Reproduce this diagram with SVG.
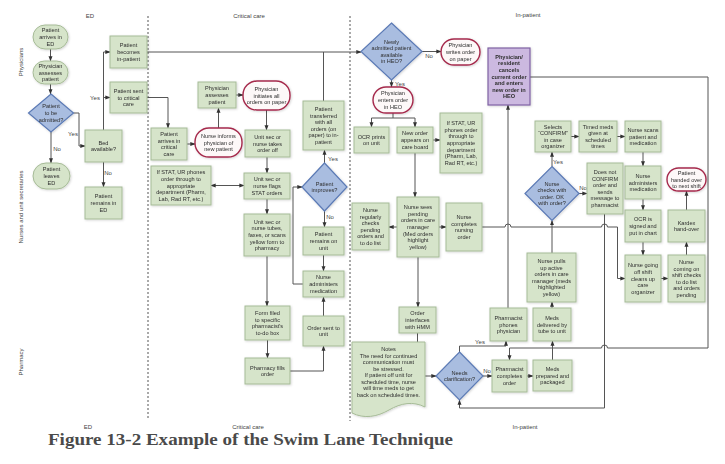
<svg xmlns="http://www.w3.org/2000/svg" width="725" height="464" viewBox="0 0 725 464">
<defs>
<style>
.box{fill:#d6e4ca;stroke:#a6bb97;stroke-width:1}
.term{fill:#fdf8f8;stroke:#a52a4c;stroke-width:1.4}
.dia{fill:#a9bde0;stroke:#5b7ab5;stroke-width:1.2}
.pur{fill:#ccb9e0;stroke:#7f62a3;stroke-width:1.2}
.t{font-family:"Liberation Sans",Arial,sans-serif;font-size:5.6px;fill:#2e2e2e;text-anchor:middle}
.b{font-weight:bold}
.lbl{font-family:"Liberation Sans",Arial,sans-serif;font-size:6px;fill:#444;text-anchor:middle}
.ln{fill:none;stroke:#555;stroke-width:1}
.ar{marker-end:url(#ah)}
.lane{stroke:#555;stroke-width:1;stroke-dasharray:2 2;fill:none}
.cap{font-family:"Liberation Serif","Times New Roman",serif;font-weight:bold;font-size:16.5px;fill:#4a4a4a}
.sh{filter:url(#ds)}
</style>
<marker id="ah" viewBox="0 0 6 6" refX="5.6" refY="3" markerWidth="5" markerHeight="5" orient="auto-start-reverse" markerUnits="userSpaceOnUse"><path d="M0,0.6 L6,3 L0,5.4 Z" fill="#333"/></marker>
<filter id="ds" x="-20%" y="-20%" width="140%" height="140%"><feDropShadow dx="0.8" dy="0.8" stdDeviation="0.8" flood-color="#000" flood-opacity="0.18"/></filter>
</defs>
<rect width="725" height="464" fill="#fff"/>

<g id="lanes">
<line class="lane" x1="148" y1="16" x2="148" y2="419"/>
<line class="lane" x1="350" y1="16" x2="350" y2="421"/>
<text class="lbl" x="90" y="18">ED</text>
<text class="lbl" x="249" y="18">Critical care</text>
<text class="lbl" x="528" y="17">In-patient</text>
<text class="lbl" x="88" y="428.5">ED</text>
<text class="lbl" x="248" y="428.5">Critical care</text>
<text class="lbl" x="525" y="428.5">In-patient</text>
<text class="lbl" transform="translate(23,62) rotate(-90)">Physicians</text>
<text class="lbl" transform="translate(23,207) rotate(-90)">Nurses and unit secretaries</text>
<text class="lbl" transform="translate(23,362) rotate(-90)">Pharmacy</text>
</g>

<g id="connectors">
<path class="ln ar" d="M50.5,49 V61"/>
<path class="ln ar" d="M50.5,84 V94"/>
<path class="ln ar" d="M73.5,113 H79 V146 H85"/>
<path class="ln ar" d="M51,132 V163"/>
<path class="ln ar" d="M103.5,130 V52 H110"/>
<path class="ln ar" d="M103.5,97.5 H110"/>
<path class="ln ar" d="M103.5,162 V187"/>
<path class="ln ar" d="M147,52 H361"/>
<path class="ln ar" d="M147,97.5 H168 V128"/>
<path class="ln ar" d="M187,144 H195"/>
<path class="ln ar" d="M218.5,128 V108"/>
<path class="ln ar" d="M236,95 H243"/>
<path class="ln ar" d="M266.5,110 V130"/>
<path class="ln ar" d="M267,157 V173"/>
<path class="ln ar" d="M211,185.5 H244" marker-start="url(#ah)"/>
<path class="ln ar" d="M267,199 V214"/>
<path class="ln ar" d="M267,256 V306"/>
<path class="ln ar" d="M267.5,340 V358"/>
<path class="ln ar" d="M290,371 H323.5 V346"/>
<path class="ln ar" d="M323.5,316 V297"/>
<path class="ln ar" d="M323.5,255 V271"/>
<path class="ln ar" d="M324.5,211 V227"/>
<path class="ln ar" d="M324.5,163 V150"/>
<path class="ln" d="M323.5,101 V52"/>
<path class="ln ar" d="M303,284 H293 V187 H302"/>
<path class="ln ar" d="M422,51.5 H441"/>
<path class="ln ar" d="M391.5,80 V87"/>
<path class="ln" d="M393,113 V118 M371.5,118 H415"/>
<path class="ln ar" d="M371.5,118 V127"/>
<path class="ln ar" d="M415,118 V127"/>
<path class="ln ar" d="M433,140 H440"/>
<path class="ln ar" d="M415,153 V197"/>
<path class="ln ar" d="M397,227 H389"/>
<path class="ln ar" d="M439,227 H446"/>
<path class="ln ar" d="M482,227 H505 A3,3 0 0 1 511,227 H601.5 A3,3 0 0 1 607.5,227 H617.5 V278.5 H625"/>
<path class="ln ar" d="M508,308 V105"/>
<path class="ln ar" d="M530,77 H708 V348 H607.5 A3,3 0 0 0 601.5,348 H509.5 V360"/>
<path class="ln ar" d="M418,257 V307"/>
<path class="ln ar" d="M417.5,333 V376 H436"/>
<path class="ln ar" d="M483,376 H492"/>
<path class="ln ar" d="M459.5,352 V346 H506 V341"/>
<path class="ln ar" d="M527,376 H533"/>
<path class="ln ar" d="M552.5,360 V341"/>
<path class="ln ar" d="M552,308 V302"/>
<path class="ln ar" d="M552,253 V220.5"/>
<path class="ln ar" d="M552,166.5 V152"/>
<path class="ln ar" d="M579,193.5 H587"/>
<path class="ln ar" d="M604.5,214 V408 H459.5 V400"/>
<path class="ln ar" d="M571,136.5 H579"/>
<path class="ln ar" d="M617,136.5 H625"/>
<path class="ln ar" d="M643,152 V166"/>
<path class="ln ar" d="M643,199 V210"/>
<path class="ln ar" d="M643,242 V255"/>
<path class="ln ar" d="M661,278.5 H668"/>
<path class="ln ar" d="M686.5,255 V242"/>
<path class="ln ar" d="M686.5,210 V191"/>
<text class="lbl" x="73" y="136">Yes</text>
<text class="lbl" x="57" y="151">No</text>
<text class="lbl" x="95" y="99.5">Yes</text>
<text class="lbl" x="108" y="175">No</text>
<text class="lbl" x="333" y="161">Yes</text>
<text class="lbl" x="330" y="219">No</text>
<text class="lbl" x="429" y="58">No</text>
<text class="lbl" x="400" y="86">Yes</text>
<text class="lbl" x="480" y="344">Yes</text>
<text class="lbl" x="487" y="373">No</text>
<text class="lbl" x="558" y="164">Yes</text>
<text class="lbl" x="583" y="190">No</text>
</g>

<g id="n_ed_arrive" class="sh"><rect class="box" x="33" y="25" width="35" height="24" rx="12"/><text class="t" x="50.5" y="32.4"><tspan x="50.5">Patient</tspan><tspan x="50.5" dy="6.6">arrives in</tspan><tspan x="50.5" dy="6.6">ED</tspan></text></g>
<g id="n_ed_assess" class="sh"><rect class="box" x="33" y="61" width="35" height="23" rx="11.5"/><text class="t" x="50.5" y="67.9"><tspan x="50.5">Physician</tspan><tspan x="50.5" dy="6.6">assesses</tspan><tspan x="50.5" dy="6.6">patient</tspan></text></g>
<g id="n_admit" class="sh"><polygon class="dia" points="51,94 73.5,113 51,132 28.5,113"/><text class="t" x="51" y="108.4"><tspan x="51">Patient</tspan><tspan x="51" dy="6.6">to be</tspan><tspan x="51" dy="6.6">admitted?</tspan></text></g>
<g id="n_leaves" class="sh"><rect class="box" x="33" y="163" width="37" height="26" rx="13"/><text class="t" x="51.5" y="171.4"><tspan x="51.5">Patient</tspan><tspan x="51.5" dy="6.6">leaves</tspan><tspan x="51.5" dy="6.6">ED</tspan></text></g>
<g id="n_bed" class="sh"><rect class="box" x="85" y="130" width="37" height="32"/><text class="t" x="103.5" y="144.7"><tspan x="103.5">Bed</tspan><tspan x="103.5" dy="6.6">available?</tspan></text></g>
<g id="n_remains_ed" class="sh"><rect class="box" x="85" y="187" width="37" height="32"/><text class="t" x="103.5" y="198.4"><tspan x="103.5">Patient</tspan><tspan x="103.5" dy="6.6">remains in</tspan><tspan x="103.5" dy="6.6">ED</tspan></text></g>
<g id="n_becomes" class="sh"><rect class="box" x="110" y="36" width="37" height="32"/><text class="t" x="128.5" y="47.4"><tspan x="128.5">Patient</tspan><tspan x="128.5" dy="6.6">becomes</tspan><tspan x="128.5" dy="6.6">in-patient</tspan></text></g>
<g id="n_sent_cc" class="sh"><rect class="box" x="110" y="82" width="37" height="31"/><text class="t" x="128.5" y="92.9"><tspan x="128.5">Patient sent</tspan><tspan x="128.5" dy="6.6">to critical</tspan><tspan x="128.5" dy="6.6">care</tspan></text></g>
<g id="n_arrives_cc" class="sh"><rect class="box" x="151" y="128" width="36" height="32"/><text class="t" x="169" y="136.1"><tspan x="169">Patient</tspan><tspan x="169" dy="6.6">arrives in</tspan><tspan x="169" dy="6.6">critical</tspan><tspan x="169" dy="6.6">care</tspan></text></g>
<g id="n_stat_cc" class="sh"><rect class="box" x="151" y="166" width="60" height="39"/><text class="t" x="181" y="174.3"><tspan x="181">If STAT, UR phones</tspan><tspan x="181" dy="6.6">order through to</tspan><tspan x="181" dy="6.6">appropriate</tspan><tspan x="181" dy="6.6">department (Pharm,</tspan><tspan x="181" dy="6.6">Lab, Rad RT, etc.)</tspan></text></g>
<g id="n_informs" class="sh"><rect class="term" x="195" y="128" width="47" height="29" rx="14"/><text class="t" x="218.5" y="137.9"><tspan x="218.5">Nurse informs</tspan><tspan x="218.5" dy="6.6">physician of</tspan><tspan x="218.5" dy="6.6">new patient</tspan></text></g>
<g id="n_cc_assess" class="sh"><rect class="box" x="198" y="82" width="38" height="26"/><text class="t" x="217" y="90.4"><tspan x="217">Physician</tspan><tspan x="217" dy="6.6">assesses</tspan><tspan x="217" dy="6.6">patient</tspan></text></g>
<g id="n_initiates" class="sh"><rect class="term" x="243" y="81" width="47" height="29" rx="14"/><text class="t" x="266.5" y="90.9"><tspan x="266.5">Physician</tspan><tspan x="266.5" dy="6.6">initiates all</tspan><tspan x="266.5" dy="6.6">orders on paper</tspan></text></g>
<g id="n_takes" class="sh"><rect class="box" x="245" y="130" width="45" height="27"/><text class="t" x="267.5" y="138.9"><tspan x="267.5">Unit sec or</tspan><tspan x="267.5" dy="6.6">nurse takes</tspan><tspan x="267.5" dy="6.6">order off</tspan></text></g>
<g id="n_flags" class="sh"><rect class="box" x="244" y="173" width="46" height="26"/><text class="t" x="267" y="181.4"><tspan x="267">Unit sec or</tspan><tspan x="267" dy="6.6">nurse flags</tspan><tspan x="267" dy="6.6">STAT orders</tspan></text></g>
<g id="n_tubes" class="sh"><rect class="box" x="244" y="214" width="46" height="42"/><text class="t" x="267" y="223.8"><tspan x="267">Unit sec or</tspan><tspan x="267" dy="6.6">nurse tubes,</tspan><tspan x="267" dy="6.6">faxes, or scans</tspan><tspan x="267" dy="6.6">yellow form to</tspan><tspan x="267" dy="6.6">pharmacy</tspan></text></g>
<g id="n_filed" class="sh"><rect class="box" x="245" y="306" width="45" height="34"/><text class="t" x="267.5" y="315.1"><tspan x="267.5">Form filed</tspan><tspan x="267.5" dy="6.6">to specific</tspan><tspan x="267.5" dy="6.6">pharmacist's</tspan><tspan x="267.5" dy="6.6">to-do box</tspan></text></g>
<g id="n_fills" class="sh"><rect class="box" x="245" y="358" width="45" height="26"/><text class="t" x="267.5" y="369.7"><tspan x="267.5">Pharmacy fills</tspan><tspan x="267.5" dy="6.6">order</tspan></text></g>
<g id="n_sent_unit" class="sh"><rect class="box" x="303" y="316" width="41" height="30"/><text class="t" x="323.5" y="329.7"><tspan x="323.5">Order sent to</tspan><tspan x="323.5" dy="6.6">unit</tspan></text></g>
<g id="n_admin_cc" class="sh"><rect class="box" x="303" y="271" width="41" height="26"/><text class="t" x="323.5" y="279.4"><tspan x="323.5">Nurse</tspan><tspan x="323.5" dy="6.6">administers</tspan><tspan x="323.5" dy="6.6">medication</tspan></text></g>
<g id="n_remains_unit" class="sh"><rect class="box" x="303" y="227" width="41" height="28"/><text class="t" x="323.5" y="236.4"><tspan x="323.5">Patient</tspan><tspan x="323.5" dy="6.6">remains on</tspan><tspan x="323.5" dy="6.6">unit</tspan></text></g>
<g id="n_improves" class="sh"><polygon class="dia" points="324.5,163 347,187 324.5,211 302,187"/><text class="t" x="324.5" y="185.7"><tspan x="324.5">Patient</tspan><tspan x="324.5" dy="6.6">improves?</tspan></text></g>
<g id="n_transferred" class="sh"><rect class="box" x="303" y="101" width="41" height="49"/><text class="t" x="323.5" y="111"><tspan x="323.5">Patient</tspan><tspan x="323.5" dy="6.6">transferred</tspan><tspan x="323.5" dy="6.6">with all</tspan><tspan x="323.5" dy="6.6">orders (on</tspan><tspan x="323.5" dy="6.6">paper) to in-</tspan><tspan x="323.5" dy="6.6">patient</tspan></text></g>
<g id="n_newly" class="sh"><polygon class="dia" points="391.5,23 422,51.5 391.5,80 361,51.5"/><text class="t" x="391.5" y="43.6"><tspan x="391.5">Newly</tspan><tspan x="391.5" dy="6.6">admitted patient</tspan><tspan x="391.5" dy="6.6">available</tspan><tspan x="391.5" dy="6.6">in HEO?</tspan></text></g>
<g id="n_writes" class="sh"><rect class="term" x="441" y="39" width="39" height="26" rx="13"/><text class="t" x="460.5" y="47.4"><tspan x="460.5">Physician</tspan><tspan x="460.5" dy="6.6">writes order</tspan><tspan x="460.5" dy="6.6">on paper</tspan></text></g>
<g id="n_enters" class="sh"><rect class="term" x="373" y="87" width="40" height="26" rx="13"/><text class="t" x="393" y="95.4"><tspan x="393">Physician</tspan><tspan x="393" dy="6.6">enters order</tspan><tspan x="393" dy="6.6">in HEO</tspan></text></g>
<g id="n_ocr_prints" class="sh"><rect class="box" x="354" y="127" width="35" height="26"/><text class="t" x="371.5" y="138.7"><tspan x="371.5">OCR prints</tspan><tspan x="371.5" dy="6.6">on unit</tspan></text></g>
<g id="n_new_order" class="sh"><rect class="box" x="397" y="127" width="36" height="26"/><text class="t" x="415" y="135.4"><tspan x="415">New order</tspan><tspan x="415" dy="6.6">appears on</tspan><tspan x="415" dy="6.6">care board</tspan></text></g>
<g id="n_stat_ip" class="sh"><rect class="box" x="440" y="113" width="42" height="60"/><text class="t" x="461" y="125.2"><tspan x="461">If STAT, UR</tspan><tspan x="461" dy="6.6">phones order</tspan><tspan x="461" dy="6.6">through to</tspan><tspan x="461" dy="6.6">appropriate</tspan><tspan x="461" dy="6.6">department</tspan><tspan x="461" dy="6.6">(Pharm, Lab,</tspan><tspan x="461" dy="6.6">Rad RT, etc.)</tspan></text></g>
<g id="n_cancels" class="sh"><rect class="pur" x="488" y="48" width="42" height="57"/><text class="t b" x="509" y="58.7"><tspan x="509">Physician/</tspan><tspan x="509" dy="6.6">resident</tspan><tspan x="509" dy="6.6">cancels</tspan><tspan x="509" dy="6.6">current order</tspan><tspan x="509" dy="6.6">and enters</tspan><tspan x="509" dy="6.6">new order in</tspan><tspan x="509" dy="6.6">HEO</tspan></text></g>
<g id="n_regularly" class="sh"><rect class="box" x="352" y="203" width="37" height="47"/><text class="t" x="370.5" y="212"><tspan x="370.5">Nurse</tspan><tspan x="370.5" dy="6.6">regularly</tspan><tspan x="370.5" dy="6.6">checks</tspan><tspan x="370.5" dy="6.6">pending</tspan><tspan x="370.5" dy="6.6">orders and</tspan><tspan x="370.5" dy="6.6">to do list</tspan></text></g>
<g id="n_sees" class="sh"><rect class="box" x="397" y="197" width="42" height="60"/><text class="t" x="418" y="209.2"><tspan x="418">Nurse sees</tspan><tspan x="418" dy="6.6">pending</tspan><tspan x="418" dy="6.6">orders in care</tspan><tspan x="418" dy="6.6">manager</tspan><tspan x="418" dy="6.6">(Med orders</tspan><tspan x="418" dy="6.6">highlight</tspan><tspan x="418" dy="6.6">yellow)</tspan></text></g>
<g id="n_completes_nursing" class="sh"><rect class="box" x="446" y="203" width="36" height="48"/><text class="t" x="464" y="219.1"><tspan x="464">Nurse</tspan><tspan x="464" dy="6.6">completes</tspan><tspan x="464" dy="6.6">nursing</tspan><tspan x="464" dy="6.6">order</tspan></text></g>
<g id="n_hmm" class="sh"><rect class="box" x="399" y="307" width="37" height="26"/><text class="t" x="417.5" y="315.4"><tspan x="417.5">Order</tspan><tspan x="417.5" dy="6.6">interfaces</tspan><tspan x="417.5" dy="6.6">with HMM</tspan></text></g>
<g id="n_notes" class="sh"><path class="box" d="M352,342 H425 V407 C413,401 401,403 389,410 C377,417 364,419 352,413 Z"/><text class="t" x="388.5" y="351"><tspan x="388.5">Notes</tspan><tspan x="388.5" dy="6.5">The need for continued</tspan><tspan x="388.5" dy="6.5">communication must</tspan><tspan x="388.5" dy="6.5">be stressed.</tspan><tspan x="388.5" dy="6.5">If patient off unit for</tspan><tspan x="388.5" dy="6.5">scheduled time, nurse</tspan><tspan x="388.5" dy="6.5">will time meds to get</tspan><tspan x="388.5" dy="6.5">back on scheduled times.</tspan></text></g>
<g id="n_clarify" class="sh"><polygon class="dia" points="459.5,352 483,376 459.5,400 436,376"/><text class="t" x="459.5" y="374.7"><tspan x="459.5">Needs</tspan><tspan x="459.5" dy="6.6">clarification?</tspan></text></g>
<g id="n_phones" class="sh"><rect class="box" x="490" y="308" width="37" height="33"/><text class="t" x="508.5" y="319.9"><tspan x="508.5">Pharmacist</tspan><tspan x="508.5" dy="6.6">phones</tspan><tspan x="508.5" dy="6.6">physician</tspan></text></g>
<g id="n_pharm_completes" class="sh"><rect class="box" x="492" y="360" width="35" height="32"/><text class="t" x="509.5" y="371.4"><tspan x="509.5">Pharmacist</tspan><tspan x="509.5" dy="6.6">completes</tspan><tspan x="509.5" dy="6.6">order</tspan></text></g>
<g id="n_prepared" class="sh"><rect class="box" x="533" y="360" width="39" height="31"/><text class="t" x="552.5" y="370.9"><tspan x="552.5">Meds</tspan><tspan x="552.5" dy="6.6">prepared and</tspan><tspan x="552.5" dy="6.6">packaged</tspan></text></g>
<g id="n_delivered" class="sh"><rect class="box" x="533" y="308" width="38" height="33"/><text class="t" x="552" y="319.9"><tspan x="552">Meds</tspan><tspan x="552" dy="6.6">delivered by</tspan><tspan x="552" dy="6.6">tube to unit</tspan></text></g>
<g id="n_pulls" class="sh"><rect class="box" x="527" y="253" width="49" height="49"/><text class="t" x="551.5" y="263"><tspan x="551.5">Nurse pulls</tspan><tspan x="551.5" dy="6.6">up active</tspan><tspan x="551.5" dy="6.6">orders in care</tspan><tspan x="551.5" dy="6.6">manager (meds</tspan><tspan x="551.5" dy="6.6">highlighted</tspan><tspan x="551.5" dy="6.6">yellow)</tspan></text></g>
<g id="n_checks" class="sh"><polygon class="dia" points="552,166.5 579,193.5 552,220.5 525,193.5"/><text class="t" x="552" y="185.6"><tspan x="552">Nurse</tspan><tspan x="552" dy="6.6">checks with</tspan><tspan x="552" dy="6.6">order. OK</tspan><tspan x="552" dy="6.6">with order?</tspan></text></g>
<g id="n_not_confirm" class="sh"><rect class="box" x="587" y="163" width="36" height="51"/><text class="t" x="605" y="174"><tspan x="605">Does not</tspan><tspan x="605" dy="6.6">CONFIRM</tspan><tspan x="605" dy="6.6">order and</tspan><tspan x="605" dy="6.6">sends</tspan><tspan x="605" dy="6.6">message to</tspan><tspan x="605" dy="6.6">pharmacist</tspan></text></g>
<g id="n_selects" class="sh"><rect class="box" x="535" y="121" width="36" height="31"/><text class="t" x="553" y="128.6"><tspan x="553">Selects</tspan><tspan x="553" dy="6.6">“CONFIRM”</tspan><tspan x="553" dy="6.6">in case</tspan><tspan x="553" dy="6.6">organizer</tspan></text></g>
<g id="n_timed" class="sh"><rect class="box" x="579" y="121" width="38" height="31"/><text class="t" x="598" y="128.6"><tspan x="598">Timed meds</tspan><tspan x="598" dy="6.6">given at</tspan><tspan x="598" dy="6.6">scheduled</tspan><tspan x="598" dy="6.6">times</tspan></text></g>
<g id="n_scans" class="sh"><rect class="box" x="625" y="121" width="36" height="31"/><text class="t" x="643" y="131.9"><tspan x="643">Nurse scans</tspan><tspan x="643" dy="6.6">patient and</tspan><tspan x="643" dy="6.6">medication</tspan></text></g>
<g id="n_admin_ip" class="sh"><rect class="box" x="625" y="166" width="36" height="33"/><text class="t" x="643" y="177.9"><tspan x="643">Nurse</tspan><tspan x="643" dy="6.6">administers</tspan><tspan x="643" dy="6.6">medication</tspan></text></g>
<g id="n_ocr_signed" class="sh"><rect class="box" x="625" y="210" width="36" height="32"/><text class="t" x="643" y="221.4"><tspan x="643">OCR is</tspan><tspan x="643" dy="6.6">signed and</tspan><tspan x="643" dy="6.6">put in chart</tspan></text></g>
<g id="n_off_shift" class="sh"><rect class="box" x="625" y="255" width="36" height="47"/><text class="t" x="643" y="267.3"><tspan x="643">Nurse going</tspan><tspan x="643" dy="6.6">off shift</tspan><tspan x="643" dy="6.6">cleans up</tspan><tspan x="643" dy="6.6">care</tspan><tspan x="643" dy="6.6">organizer</tspan></text></g>
<g id="n_on_shift" class="sh"><rect class="box" x="668" y="255" width="37" height="47"/><text class="t" x="686.5" y="264"><tspan x="686.5">Nurse</tspan><tspan x="686.5" dy="6.6">coming on</tspan><tspan x="686.5" dy="6.6">shift checks</tspan><tspan x="686.5" dy="6.6">to do list</tspan><tspan x="686.5" dy="6.6">and orders</tspan><tspan x="686.5" dy="6.6">pending</tspan></text></g>
<g id="n_kardex" class="sh"><rect class="box" x="668" y="210" width="37" height="32"/><text class="t" x="686.5" y="224.7"><tspan x="686.5">Kardex</tspan><tspan x="686.5" dy="6.6">hand-over</tspan></text></g>
<g id="n_handed" class="sh"><rect class="term" x="667" y="168" width="39" height="23" rx="11.5"/><text class="t" x="686.5" y="174.9"><tspan x="686.5">Patient</tspan><tspan x="686.5" dy="6.6">handed over</tspan><tspan x="686.5" dy="6.6">to next shift</tspan></text></g>

<text class="cap" x="48" y="445" textLength="405" lengthAdjust="spacingAndGlyphs">Figure 13-2 Example of the Swim Lane Technique</text>
</svg>
